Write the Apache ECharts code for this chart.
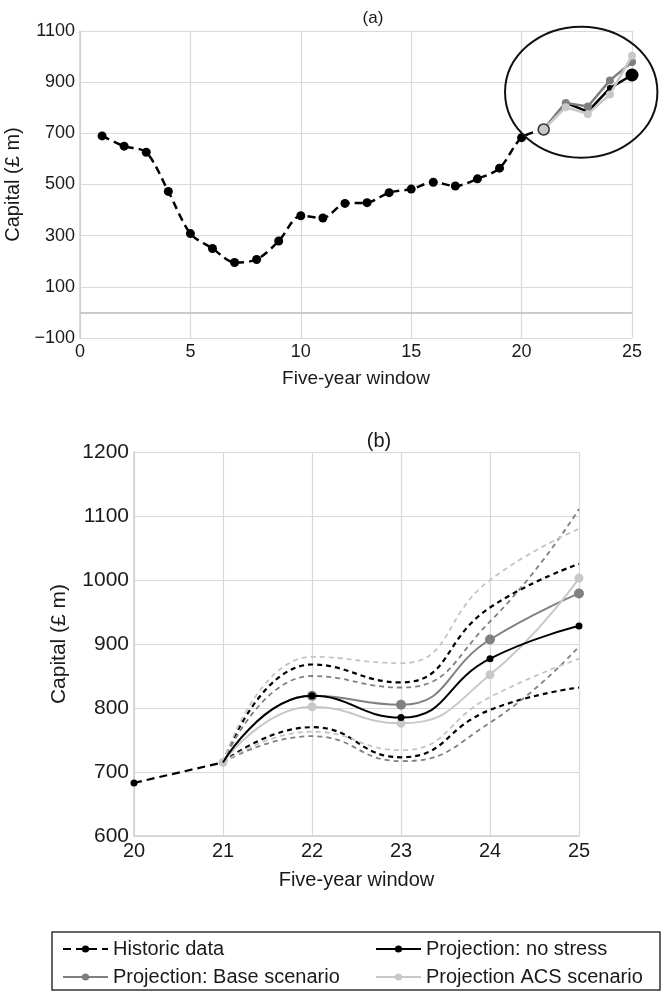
<!DOCTYPE html>
<html>
<head>
<meta charset="utf-8">
<script src="https://cdn.jsdelivr.net/npm/echarts@6/dist/echarts.min.js"></script>
<style>
  html, body { margin: 0; padding: 0; background: #fff; }
  #main { width: 663px; height: 998px; }
</style>
</head>
<body>
<div id="main"></div>
<script>
// historic capital, five-year windows 1..21 (21 = start of projections)
const histWindows = [1, 2, 3, 4, 5, 6, 7, 8, 9, 10, 11, 12, 13, 14, 15, 16, 17, 18, 19, 20, 21];
const histValues = [690, 650, 626, 473, 308, 250, 195, 207, 279, 378, 369, 426, 429, 468, 482, 509, 494, 522, 564, 683, 715];

// projections, windows 21..25
const projWindows = [21, 22, 23, 24, 25];
const noStress = [715, 819, 785, 877, 928];
const baseScen = [715, 819, 805, 907, 979];
const acsScen = [715, 802, 776, 852, 1003];

// dashed bands round each projection
const noStressHi = [715, 868, 840, 957, 1025];
const noStressLo = [715, 770, 723, 797, 832];
const baseHi = [715, 850, 832, 935, 1111];
const baseLo = [715, 756, 717, 777, 896];
const acsHi = [715, 880, 870, 1000, 1080];
const acsLo = [715, 763, 734, 817, 877];

const FONT = "'Liberation Sans', Arial, sans-serif";
const TXT = '#1a1a1a';
const GRIDC = '#d9d9d9';

function pairs(xs, ys) {
  return xs.map((x, i) => [x, ys[i]]);
}
// plain numbers, real minus sign
function tick(v) {
  return String(v).replace('-', '\u2212');
}

// last two historic points go into panel (b)
const recent = pairs(histWindows, histValues).slice(-2);

const chart = echarts.init(document.getElementById('main'), null, { renderer: 'canvas' });

function valueAxis(size, extra) {
  return Object.assign({
    type: 'value',
    axisLine: { show: true, lineStyle: { color: '#cfcfcf', width: 1.5 } },
    axisTick: { show: false },
    splitLine: { show: true, lineStyle: { color: GRIDC, width: 1.2 } },
    nameLocation: 'middle',
    nameTextStyle: { color: TXT, fontFamily: FONT, fontSize: size },
    axisLabel: { color: TXT, fontFamily: FONT, fontSize: size, margin: 5, formatter: tick }
  }, extra);
}

function band(name, ys, color, width) {
  return {
    name: name, type: 'line', xAxisIndex: 1, yAxisIndex: 1,
    data: pairs(projWindows, ys), smooth: 0.5, symbol: 'none',
    lineStyle: { color: color, width: width, type: [5, 4] },
    z: 2, silent: true
  };
}

// first point of a panel (b) projection sits under the ACS marker
function noFirst(p, i) {
  return i === 0 ? { value: p, symbol: 'none' } : p;
}

const option = {
  animation: false,
  backgroundColor: '#fff',
  title: [
    { text: '(a)', left: 368, top: 5, textAlign: 'center',
      textStyle: { fontFamily: FONT, fontSize: 17, fontWeight: 'normal', color: TXT } },
    { text: '(b)', left: 374, top: 426, textAlign: 'center',
      textStyle: { fontFamily: FONT, fontSize: 20, fontWeight: 'normal', color: TXT } }
  ],
  grid: [
    { left: 80, right: 31, top: 31, height: 307, outerBoundsMode: 'none' },
    { left: 134, right: 84, top: 452, height: 384, outerBoundsMode: 'none' }
  ],
  xAxis: [
    valueAxis(18, { gridIndex: 0, min: 0, max: 25, interval: 5, name: 'Five-year window', nameGap: 31,
      nameTextStyle: { color: TXT, fontFamily: FONT, fontSize: 19 } }),
    valueAxis(20, { gridIndex: 1, min: 20, max: 25, interval: 1, name: 'Five-year window', nameGap: 34 })
  ],
  yAxis: [
    valueAxis(18, { gridIndex: 0, min: -100, max: 1100, interval: 200, name: 'Capital (£ m)', nameGap: 53,
      nameTextStyle: { color: TXT, fontFamily: FONT, fontSize: 20 } }),
    valueAxis(21, { gridIndex: 1, min: 600, max: 1200, interval: 100, name: 'Capital (£ m)', nameGap: 64 })
  ],
  legend: [
    { orient: 'vertical', left: 57, top: 934, itemWidth: 45, itemHeight: 9, itemGap: 8,
      data: ['Historic data', 'Projection: Base scenario'],
      textStyle: { fontFamily: FONT, fontSize: 20, color: TXT } },
    { orient: 'vertical', left: 370, top: 934, itemWidth: 45, itemHeight: 9, itemGap: 8,
      data: ['Projection: no stress', 'Projection ACS scenario'],
      textStyle: { fontFamily: FONT, fontSize: 20, color: TXT } }
  ],
  series: [
    // panel (a)
    {
      name: 'Historic data', type: 'line', xAxisIndex: 0, yAxisIndex: 0,
      data: pairs(histWindows, histValues), smooth: 0.3,
      symbol: 'circle', symbolSize: 9,
      itemStyle: { color: '#000' },
      lineStyle: { color: '#000', width: 2.5, type: [8, 5] },
      markLine: {
        silent: true, symbol: 'none', label: { show: false },
        lineStyle: { color: '#c4c4c4', width: 1.5, type: 'solid' },
        data: [{ yAxis: 0 }]
      },
      z: 3
    },
    {
      name: 'Projection: no stress', type: 'line', xAxisIndex: 0, yAxisIndex: 0,
      data: pairs(projWindows, noStress).map((p, i) => i === 4 ? { value: p, symbolSize: 13 } : p),
      symbol: 'circle', symbolSize: 6,
      itemStyle: { color: '#000' }, lineStyle: { color: '#000', width: 2.5 }, z: 4
    },
    {
      name: 'Projection: Base scenario', type: 'line', xAxisIndex: 0, yAxisIndex: 0,
      data: pairs(projWindows, baseScen), symbol: 'circle', symbolSize: 8,
      itemStyle: { color: '#7f7f7f' }, lineStyle: { color: '#7f7f7f', width: 2.5 }, z: 5
    },
    {
      name: 'Projection ACS scenario', type: 'line', xAxisIndex: 0, yAxisIndex: 0,
      data: pairs(projWindows, acsScen).map((p, i) => i === 0
        ? { value: p, symbolSize: 11, itemStyle: { color: '#c8c8c8', borderColor: '#333', borderWidth: 1.5 } } : p),
      symbol: 'circle', symbolSize: 8,
      itemStyle: { color: '#c8c8c8' }, lineStyle: { color: '#c8c8c8', width: 2.5 }, z: 6
    },
    // panel (b)
    {
      name: 'Historic data', type: 'line', xAxisIndex: 1, yAxisIndex: 1,
      data: recent.map((p, i) => i === 1 ? { value: p, symbol: 'none' } : p),
      symbol: 'circle', symbolSize: 7,
      itemStyle: { color: '#000' }, lineStyle: { color: '#000', width: 2.2, type: [8, 5] }, z: 3
    },
    band('no stress high', noStressHi, '#000', 2.2),
    band('no stress low', noStressLo, '#000', 2.2),
    band('base high', baseHi, '#808080', 1.8),
    band('base low', baseLo, '#808080', 1.8),
    band('acs high', acsHi, '#c4c4c4', 1.8),
    band('acs low', acsLo, '#c4c4c4', 1.8),
    {
      name: 'Projection: no stress', type: 'line', xAxisIndex: 1, yAxisIndex: 1,
      data: pairs(projWindows, noStress).map(noFirst), smooth: 0.5,
      symbol: 'circle', symbolSize: 7,
      itemStyle: { color: '#000' }, lineStyle: { color: '#000', width: 2 }, z: 5
    },
    {
      name: 'Projection: Base scenario', type: 'line', xAxisIndex: 1, yAxisIndex: 1,
      data: pairs(projWindows, baseScen).map(noFirst), smooth: 0.5,
      symbol: 'circle', symbolSize: 10,
      itemStyle: { color: '#808080' }, lineStyle: { color: '#808080', width: 2 }, z: 4
    },
    {
      name: 'Projection ACS scenario', type: 'line', xAxisIndex: 1, yAxisIndex: 1,
      data: pairs(projWindows, acsScen), smooth: 0.5,
      symbol: 'circle', symbolSize: 9,
      itemStyle: { color: '#c8c8c8' }, lineStyle: { color: '#c8c8c8', width: 2 }, z: 4
    }
  ]
};

chart.setOption(option);

// ring round the projections in panel (a), placed in data units
const ctr = chart.convertToPixel({ gridIndex: 0 }, [22.7, 861]);
const edge = chart.convertToPixel({ gridIndex: 0 }, [22.7 + 3.45, 861 - 256]);
chart.setOption({
  graphic: [
    { type: 'ellipse', id: 'ring', z: 10, silent: true,
      shape: { cx: ctr[0], cy: ctr[1], rx: edge[0] - ctr[0], ry: edge[1] - ctr[1] },
      style: { fill: 'none', stroke: '#111', lineWidth: 2 } },
    { type: 'rect', id: 'legendBox', z: 10, silent: true,
      shape: { x: 52, y: 932, width: 608, height: 58 },
      style: { fill: 'none', stroke: '#333', lineWidth: 1.5 } }
  ]
});
</script>
</body>
</html>
